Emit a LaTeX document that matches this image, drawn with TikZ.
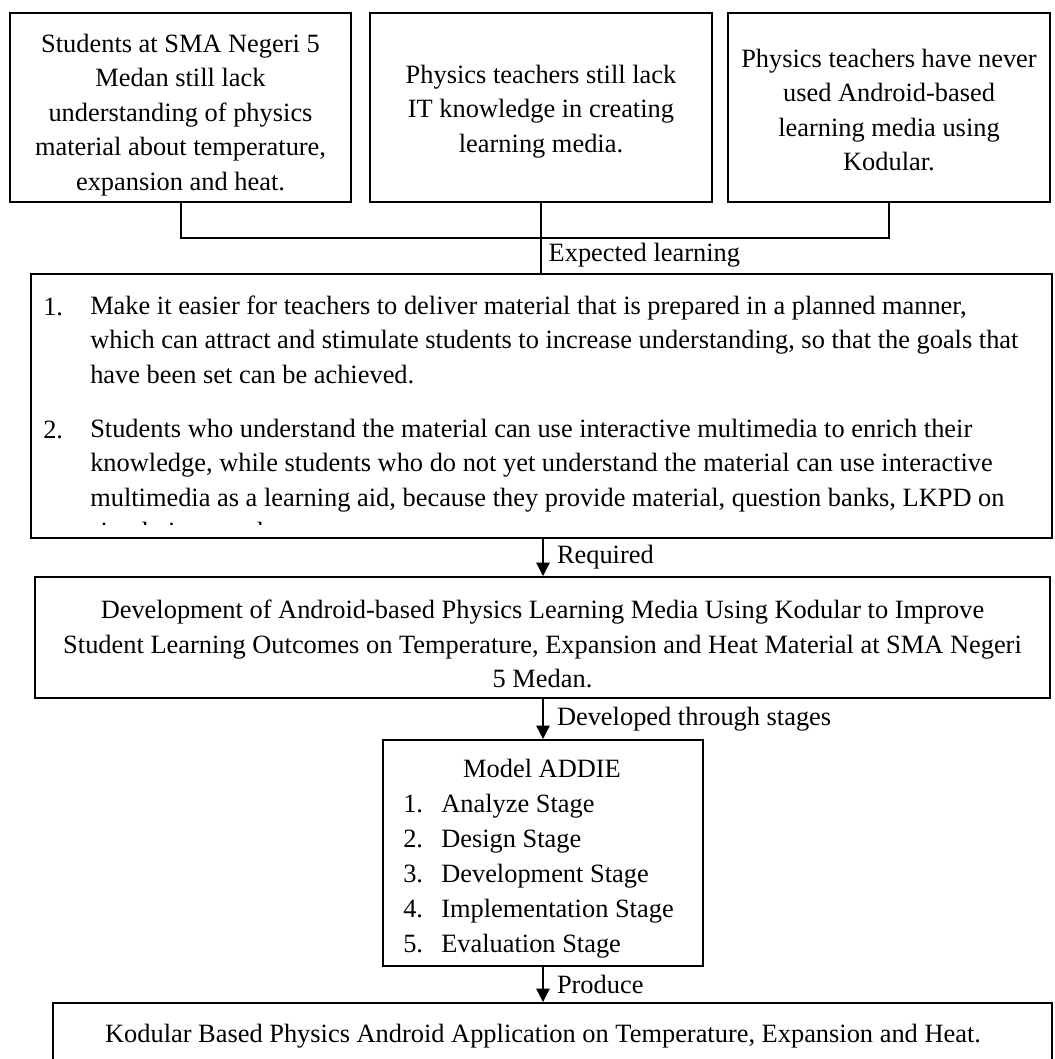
\documentclass[tikz,border=0pt]{standalone}
\usepackage{fontspec}
\setmainfont{Liberation Serif}
\usetikzlibrary{arrows.meta}

\begin{document}
\begin{tikzpicture}[x=0.75pt,y=-0.75pt,
  every node/.style={font=\fontsize{19.8}{25.9}\selectfont},
  box/.style={draw,line width=1.5pt,align=center,inner sep=0pt},
  arr/.style={line width=1pt,-{Triangle[width=10pt,length=10pt]}},
  lbl/.style={right,inner sep=0pt,xshift=10pt}]
  \clip (0,0) rectangle (1055,1059);

  % problems
  \node[box,minimum width=255.75pt,minimum height=141.75pt] (p1) at (180.5,107.5) {};
  \node[box,minimum width=256.5pt,minimum height=141.75pt] (p2) at (541,107.5) {};
  \node[box,minimum width=241.5pt,minimum height=141.75pt] (p3) at (889,107.5) {};
  \node[align=center,inner sep=0pt] (p1t) at (180.5,115) {Students at SMA Negeri 5\\Medan still lack\\understanding of physics\\material about temperature,\\expansion and heat.};
  \node[align=center,inner sep=0pt] (p2t) at (541,111.5) {Physics teachers still lack\\IT knowledge in creating\\learning media.};
  \node[align=center,inner sep=0pt] (p3t) at (889,110) {Physics teachers have never\\used Android-based\\learning media using\\Kodular.};

  % expected learning
  \node[box,minimum width=765.75pt,minimum height=198pt] (e) at (541,406) {};
  \node[anchor=north west,inner sep=0pt] (n1) at (43,297.5) {1.};
  \node[anchor=north west,inner sep=0pt,align=left] (t1) at (90,295.5) {Make it easier for teachers to deliver material that is prepared in a planned manner,\\which can attract and stimulate students to increase understanding, so that the goals that\\have been set can be achieved.};
  \node[anchor=north west,inner sep=0pt] (n2) at (43,420.5) {2.};
  \begin{scope}
    \clip (31,274) rectangle (1052,524);
    \node[anchor=north west,inner sep=0pt,align=left] (t2) at (90,418.5) {Students who understand the material can use interactive multimedia to enrich their\\knowledge, while students who do not yet understand the material can use interactive\\multimedia as a learning aid, because they provide material, question banks, LKPD on\\simulations, and test assessments.};
  \end{scope}

  % development
  \node[box,minimum width=761.25pt,minimum height=90.75pt] (d) at (542.5,637.5) {};
  \node[align=center,inner sep=0pt] (dt) at (542.5,644) {Development of Android-based Physics Learning Media Using Kodular to Improve\\Student Learning Outcomes on Temperature, Expansion and Heat Material at SMA Negeri\\5 Medan.};

  % ADDIE
  \node[box,minimum width=240pt,minimum height=169.5pt] (m) at (543,853) {};
  \node[anchor=base,inner sep=0pt] (mt) at (542,777) {Model ADDIE};
  \foreach \i/\s in {1/Analyze,2/Design,3/Development,4/Implementation,5/Evaluation}{
    \node[anchor=base west,inner sep=0pt] (mn\i) at (403,777+35*\i) {\i.};
    \node[anchor=base west,inner sep=0pt] (ms\i) at (441,777+35*\i) {\s{} Stage};
  }

  % product
  \node[box,minimum width=749.25pt,minimum height=45pt] (k) at (552.5,1033) {};
  \node[anchor=base,inner sep=0pt] (kt) at (543,1042) {Kodular Based Physics Android Application on Temperature, Expansion and Heat.};

  % connectors
  \coordinate (j) at (541,238);
  \draw[line width=1.5pt] (p1.south) |- (j) -| (p3.south);
  \draw[line width=1.5pt] (p2.south) -- (j);
  \draw[line width=1.5pt] (j) -- node[right,inner sep=0pt,xshift=5pt] {Expected learning} (e.north);
  \draw[arr] (e.south -| m.north) -- node[lbl] {Required} (d.north -| m.north);
  \draw[arr] (d.south -| m.north) -- node[lbl] {Developed through stages} (m.north);
  \draw[arr] (m.south) -- node[lbl] {Produce} (k.north -| m.south);
\end{tikzpicture}
\end{document}
